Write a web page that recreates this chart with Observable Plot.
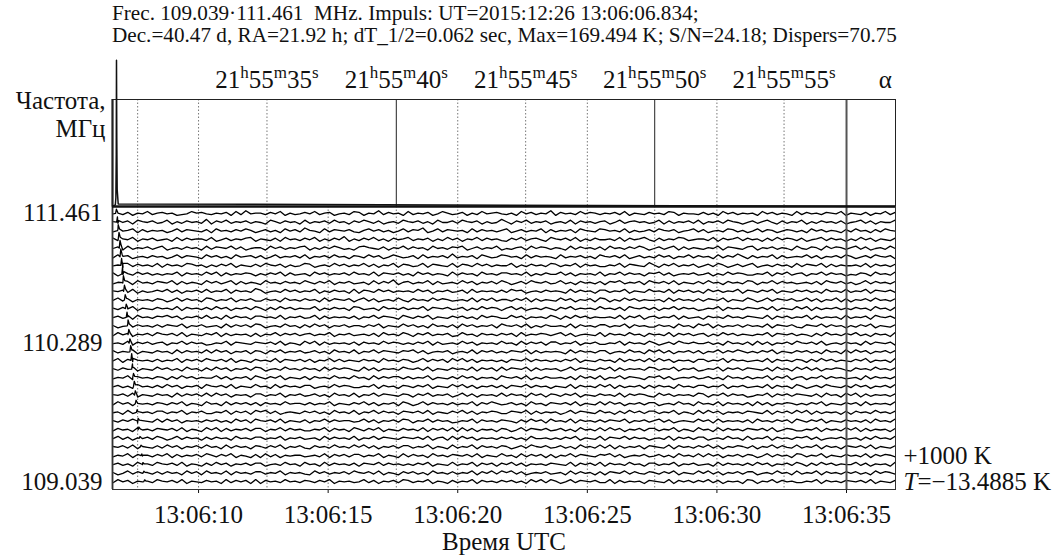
<!DOCTYPE html>
<html><head><meta charset="utf-8">
<script src="https://cdn.jsdelivr.net/npm/d3@7"></script>
<script src="https://cdn.jsdelivr.net/npm/@observablehq/plot@0.6"></script>
<style>
body{margin:0;background:#fff;}
#wrap{position:relative;width:1063px;height:559px;font-family:"Liberation Serif","Times New Roman",serif;color:#111;overflow:hidden;}
#wrap svg, #wrap svg text{font-family:"Liberation Serif","Times New Roman",serif !important;}
#title{position:absolute;left:112px;top:1.5px;font-size:21.2px;line-height:22px;white-space:pre;}
.pl{position:absolute;left:0;}
</style></head><body>
<div id="wrap"></div>
<script>
// ---------- data ----------
const titleLines = [
  "Frec. 109.039·111.461  MHz. Impuls: UT=2015:12:26 13:06:06.834;",
  "Dec.=40.47 d, RA=21.92 h; dT_1/2=0.062 sec, Max=169.494 K; S/N=24.18; Dispers=70.75"
];
const channelFreqs = [111.461,111.383,111.305,111.227,111.148,111.070,110.992,110.914,110.836,110.758,110.680,110.602,110.523,110.445,110.367,110.289,110.211,110.133,110.055,109.977,109.898,109.820,109.742,109.664,109.586,109.508,109.430,109.352,109.273,109.195,109.117,109.039];
const freqTicks = [111.461, 110.289, 109.039];
const utcTicks = [10, 15, 20, 25, 30, 35];           // seconds after 13:06:00
const raTimes = [7.65, 12.64, 17.63, 22.62, 27.60, 32.59]; // UT of 21h55m30s..55s
const raLabels = ["", "21h55m35s", "21h55m40s", "21h55m45s", "21h55m50s", "21h55m55s"];
const raSolid = [17.63, 27.60];
const upperDotted = [7.65, 10, 12.64, 20, 22.62, 25, 30, 32.59];
const lowerDotted = [7.65, 10, 12.64, 15, 17.63, 20, 22.62, 25, 27.60, 30, 32.59];
const markerTime = 35;
// averaged pulse profile (upper panel), K
const profileT = [6.68, 6.79, 6.81, 6.825, 6.834, 6.845, 6.86, 6.90, 36.88];
const profileK = [0, 2, 10, 60, 169.494, 80, 20, 3, 0];
// dispersed pulse arrival (s after 13:06:00) and amplitude (K) per channel
const pulseT = [6.83,6.87,6.90,6.93,6.97,7.00,7.03,7.07,7.10,7.14,7.17,7.21,7.24,7.28,7.31,7.35,7.38,7.42,7.45,7.49,7.52,7.56,7.59,7.63,7.67,7.70,7.74,7.78,7.81,7.85,7.89,7.92];
const pulseK = [500,600,700,800,900,900,800,900,800,700,600,500,600,700,600,500,700,800,600,500,600,500,400,300,300,300,200,200,200,200,200,200];
const pulseShapeDt = [-0.03, 0, 0.05];
const pulseShapeF = [0, 1, 0.3];
// sampled noise per channel (digit 0..9, centred at 4.5)
const noiseRows = [
"4536254735 6452347564 3546273845 5364725346 4735624537 6254836452 7354624753 4625374564 3527463548 2645374653 5463725436 4537625443 6352746354 5274635427 3645365472 5436254736",
"5346275463 4725364538 2647354635 4275364527 3546374526 4753624537 5463527446 3754625348 5264735462 4537264535 6247356453 4726354637 2546375424 6357426354 7253645362 4573625447",
"3645726354 5247365436 2745364752 4635274638 5427365463 2574635247 3658247365 4527364535 7246354726 3546275437 6453725346 3754624573 6245376352 4736524653 5274635426 3745263754",
"6354725463 4527364553 7246354672 5436274536 4725364825 3647352645 7354625374 6254736453 2647356427 5463725364 4537264574 2635476345 5372645736 4526374653 6245736452 5374625436",
"4627354635 7245364527 3654736245 5274635467 2536475342 6754362547 3645274536 5724635472 4356274653 5427364536 2745364752 4635726354 3547265436 7254635427 4365274653 5736245374",
"3756245364 5247365427 4635274563 6247354637 2546374526 5374624753 4627354638 3546275347 6452736454 2735463527 5463724635 3746254736 4527364852 6354726345 4736254637 5246375462",
"4527364537 2645376452 5364725436 3754625347 6245374635 4736254726 5347265437 2653746354 4725364537 6354726453 3547265438 5264735462 4637524635 7245364527 3654726354 4537264536",
"6245374635 3547264537 4726354652 5364726345 2746354637 4537265463 5274635427 3645274536 6453725364 4736254537 2547364526 5736245463 4625374653 3547264735 6254736452 4365274537",
"3546274536 5472635427 4635726354 2745364537 5364725463 4527364825 6354726345 3746254637 5246375463 4735264536 2657354627 5463725436 3745264537 6254736453 4536275463 5247364536",
"5463725346 4736254637 3547264538 6245374635 4725364527 2653746354 5374625463 4627354536 3756245364 5427364526 6354725437 4537264635 2746354726 5364725436 4635274537 3547265463",
"4736254536 5247364527 6354725463 3645274536 4527365462 5736245374 2645374653 4537264735 5364726354 3746254627 6253746354 4527364536 3654725437 5247365463 4736254726 2546374536",
"5364725436 4537264536 3746254637 5263746354 4725364527 6345274536 3547265463 4625374652 5736245364 2647354537 4536275463 6254736452 3547264536 5463725437 4726354635 3645274526",
"4635274536 5746254637 3527364526 6453725463 4726354536 2547365427 5364725436 4635274653 3746254537 5263746354 4537264725 6354726345 2645374536 5437264635 4726354527 3546275463",
"5247364536 3654725463 4527364637 6245374526 3746254635 5364725437 4635274536 2746354627 5463725364 4537264536 6354726453 3645274527 5726354636 4537265463 2654736452 5364725436",
"3746254637 5463725436 4726354526 2547364635 6354725463 4536274537 5264735462 3745264536 4627354653 5736245437 2645374526 4537264635 6253746354 3547265463 5426374536 4735264527",
"4537264635 6254736452 3547265436 5463725427 4726354536 2645374653 5364726345 3746254537 4527364626 6354725463 3547264537 5246375464 4635274536 2736254637 5463724536 4527365462",
"6354725436 4527364537 3746254626 5264735463 4635274537 2547365436 5736245462 4537264635 3654726354 5427364536 6245374527 4736254636 2547364753 5364725436 4635274527 3746254636",
"4726354536 3547264637 5463725426 4537265463 6254736354 3645274536 5247364627 4736254535 2654736453 5364725436 4527364637 3746254526 6354726453 4537264536 5263746354 3647254527",
"5364725437 4635274526 3746254637 6245374536 4527364653 2736254537 5463725436 4537264627 3654726354 5247365436 4726354537 6354725462 3547264636 5436274527 4736254653 2645374536",
"3547264536 5263746354 4736254627 5364725436 2645374537 4527364663 6354725436 3746254527 5463725364 4536274637 2547365426 5736245463 4635274536 3547264725 6254736453 4527364536",
"4635274536 3746254627 5463725437 4527364536 6245374653 3547264526 5364725437 4736254636 2654736452 5437264537 4726354626 3645274536 6354725463 4537264527 5246375436 3746254637",
"5463725436 4527364637 3746254526 6354725463 4635274537 2547365436 5264735462 4736254537 3645274626 5364725436 4537264653 2746354537 6254736452 3547264636 5436274527 4726354536",
"3746254536 5364725427 4527364636 2645374553 6354725436 4736254627 5247364536 3547264753 4635274526 5463725437 3746254636 6245374527 4537264536 2736254653 5364725436 4627354537",
"4527364536 6354725463 3547264627 5736245436 4635274537 2547364526 5463725436 4736254653 3654726354 5247365437 4526374636 6354725427 3746254536 5437264637 4726354526 2645374536",
"5364725437 3746254536 4635274627 5463725436 2547364553 4736254637 6254736452 3547264536 5426374627 4537264536 3654725463 5736245437 4627354536 2745364627 5364725436 4536274537",
"3645274536 5463725427 4726354636 6254736453 3547264527 5364725436 4537264637 2736254526 5247365463 4635274537 3746254636 6354725427 4527364536 5463724653 3547264537 4726354526",
"4736254637 5247364526 3645274536 6354725463 4527364537 2547365436 5463725627 3746254536 4635274453 5364725437 2654736452 4537264636 6245374527 3547264536 5736245463 4526374537",
"5463725436 3746254637 4527364526 5364725463 2645374537 4736254636 6354725427 3547264536 5246375463 4635274537 3726354626 5437264536 4736254653 6254736437 3547264526 5463725436",
"3547264536 4726354637 5364725426 2736254553 4537264636 6354725427 3645274536 5463725437 4527364626 2547365436 5736245463 4635274537 3746254636 5247364527 6354725436 4537264653",
"4635274537 5463725426 3746254636 6245374527 4527364536 2654736453 5364725437 3547264626 4736254536 5437264637 2645374526 6354725463 4527364536 3746254637 5263746354 4736254527",
"5247364536 3645274627 4537264536 6354725453 2746354637 5463725426 4635274536 3547264737 5736245463 4527364526 2654736436 5364725437 4736254636 6245374527 3547264536 4635274653",
"3746254537 5463725436 4527364627 2645374536 5364725453 4736254637 6354725426 3547264536 4635274737 5247365463 3726354526 5437264636 4736254527 6254736453 3547264536 5463725436"
];
const noiseStart = 6.70, noiseStep = 0.1898, kPerDigit = 90;
const chanSpacingMHz = 0.078125, kPerChannel = 1000;
const rightLabels = [{f: 109.273, s: "+1000 K"}, {f: 109.039, s: "T=−13.4885 K"}];

// ---------- build ----------
const FONT = '"Liberation Serif","Times New Roman",serif';
const xDomain = [6.68, 36.89];
const wrap = document.getElementById("wrap");
const title = document.createElement("div");
title.id = "title";
title.textContent = titleLines.join("\n");

const traces = [];
noiseRows.forEach((row, ch) => {
  const digits = row.replace(/\s/g, "").split("").map(Number);
  const pts = digits.map((d, k) => ({ch, t: noiseStart + k * noiseStep, K: (d - 4.5) * kPerDigit}));
  pulseShapeDt.forEach((dt, j) => pts.push({ch, t: pulseT[ch] + dt, K: pulseK[ch] * pulseShapeF[j]}));
  pts.sort((a, b) => a.t - b.t);
  pts.forEach(p => { p.y = channelFreqs[ch] + p.K / kPerChannel * chanSpacingMHz; traces.push(p); });
});
const profile = profileT.map((t, i) => ({t, K: profileK[i]}));
const raData = raTimes.map((t, i) => ({t, s: raLabels[i]})).filter(d => d.s);

const upper = Plot.plot({
  width: 1063, height: 156, marginTop: 49, marginBottom: 0, marginLeft: 112, marginRight: 168,
  style: {fontFamily: FONT, fontSize: "25px", color: "#111", background: "transparent", overflow: "visible"},
  x: {domain: xDomain, axis: null},
  y: {domain: [0, 124], axis: null},
  marks: [
    Plot.ruleX(upperDotted, {stroke: "#777", strokeDasharray: "1.5,2"}),
    Plot.ruleX(raSolid, {stroke: "#222", strokeWidth: 1}),
    Plot.ruleX([markerTime], {stroke: "#555", strokeWidth: 2}),
    Plot.ruleX([xDomain[0]], {stroke: "#777", strokeWidth: 3}),
    Plot.frame({stroke: "#222"}),
    Plot.line(profile, {x: "t", y: "K", stroke: "#111", strokeWidth: 1.5}),
    Plot.text(raData, {x: "t", text: "s", frameAnchor: "top", dy: -12, lineAnchor: "bottom", fill: "#111"}),
    Plot.text(["α"], {x: [36.50], frameAnchor: "top", dy: -12, lineAnchor: "bottom", fill: "#111"}),
    Plot.text(["Частота,"], {frameAnchor: "top-left", dx: -7, dy: 1, textAnchor: "end", lineAnchor: "middle", fill: "#111"}),
    Plot.text(["МГц"], {frameAnchor: "top-left", dx: -7, dy: 29, textAnchor: "end", lineAnchor: "middle", fill: "#111"})
  ]
});
upper.classList.add("pl");
upper.style.top = "50px";

const lower = Plot.plot({
  width: 1063, height: 363, marginTop: 10, marginBottom: 70, marginLeft: 112, marginRight: 168,
  style: {fontFamily: FONT, fontSize: "25px", color: "#111", background: "transparent", overflow: "visible"},
  x: {domain: xDomain, ticks: utcTicks, tickFormat: d => "13:06:" + String(d).padStart(2, "0"), tickSize: 4, tickPadding: 12, label: null},
  y: {domain: [108.967, 111.524], ticks: freqTicks, tickFormat: d => d.toFixed(3), tickSize: 0, tickPadding: 10, label: null},
  marks: [
    Plot.ruleX(lowerDotted, {stroke: "#777", strokeDasharray: "1.5,2"}),
    Plot.line(traces, {x: "t", y: "y", z: "ch", stroke: "#000", strokeWidth: 1.3}),
    Plot.ruleX([markerTime], {stroke: "#555", strokeWidth: 2}),
    Plot.ruleX([xDomain[0]], {stroke: "#555", strokeWidth: 2}),
    Plot.frame({stroke: "#333"}),
    Plot.ruleY([111.524], {stroke: "#111", strokeWidth: 2.5}),
    Plot.text(["Время UTC"], {frameAnchor: "bottom", dy: 52, lineAnchor: "middle", fill: "#111"}),
    Plot.text(rightLabels, {y: "f", text: "s", frameAnchor: "right", dx: 8, textAnchor: "start", lineAnchor: "middle", fill: "#111"})
  ]
});
lower.classList.add("pl");
lower.style.top = "196px";

wrap.appendChild(upper);
wrap.appendChild(lower);
wrap.appendChild(title);

// superscripts for RA labels, italic T
d3.select(upper).selectAll("text").each(function () {
  const m = this.textContent.match(/^(\d+)h(\d+)m(\d+)s$/);
  if (!m) return;
  const el = d3.select(this);
  el.text(null);
  [[m[1], false], ["h", true], [m[2], false], ["m", true], [m[3], false], ["s", true]].forEach(([s, sup], i) => {
    const ts = el.append("tspan").text(s);
    if (sup) ts.attr("font-size", "17px").attr("dy", -10);
    else if (i > 0) ts.attr("dy", 10);
  });
});
d3.select(lower).selectAll("text").each(function () {
  const s = this.textContent;
  if (!s.startsWith("T=")) return;
  const el = d3.select(this);
  el.text(null);
  el.append("tspan").attr("font-style", "italic").text("T");
  el.append("tspan").text(s.slice(1));
});
</script>
</body></html>
